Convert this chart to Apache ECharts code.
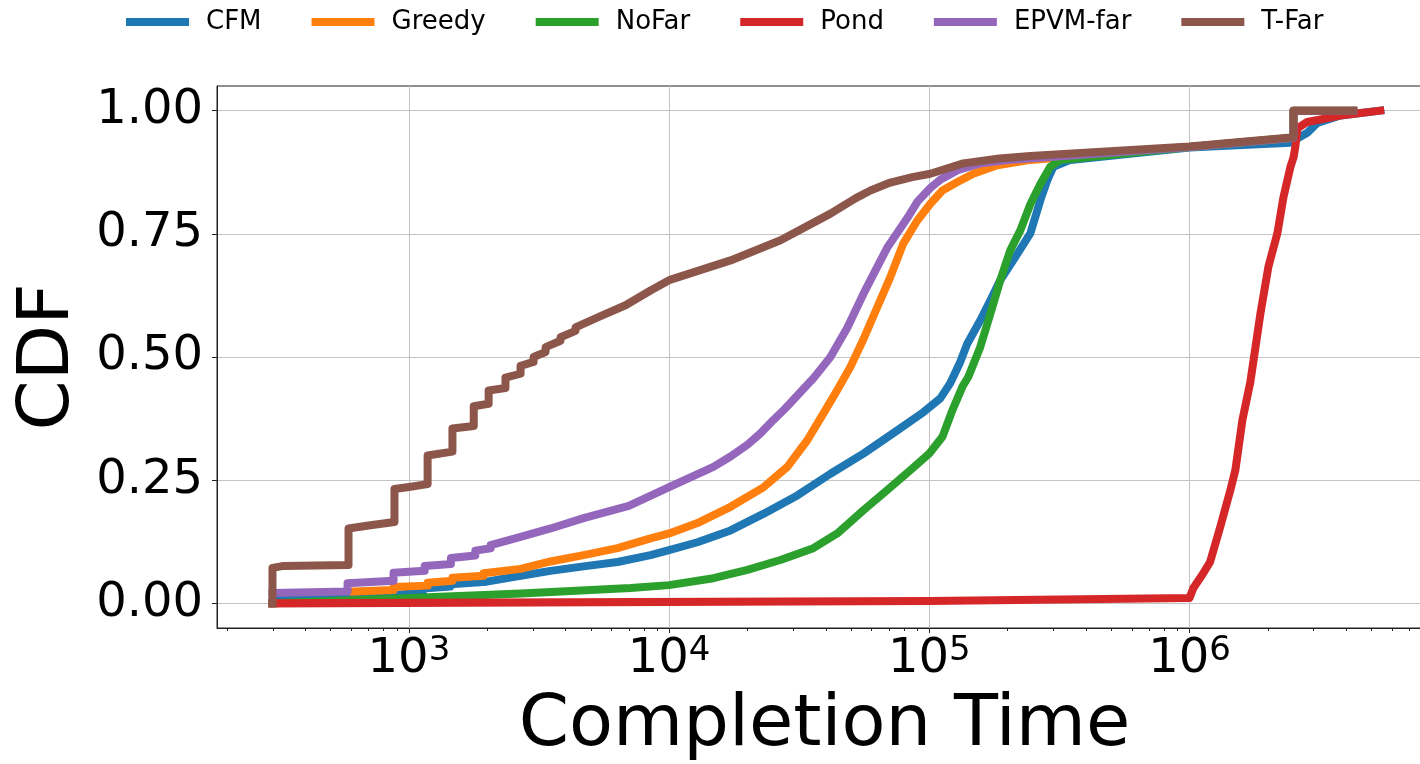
<!DOCTYPE html>
<html>
<head>
<meta charset="utf-8">
<title>CDF of completion time</title>
<script src="https://cdn.jsdelivr.net/npm/echarts@6/dist/echarts.min.js"></script>
<style>
  html, body { margin: 0; padding: 0; background: #fff; }
  #chart { width: 1420px; height: 764px; }
</style>
</head>
<body>
<div id="chart"></div>
<script>
// Series names and colours (matplotlib tab10)
const seriesNames = ['CFM', 'Greedy', 'NoFar', 'Pond', 'EPVM-far', 'T-Far'];
const seriesColors = ['#1f77b4', '#ff7f0e', '#2ca02c', '#d62728', '#9467bd', '#8c564b'];

// Tick values
const xMajorTicks = [1e3, 1e4, 1e5, 1e6];
const xMinorTicks = [200, 300, 400, 500, 600, 700, 800, 900,
  2e3, 3e3, 4e3, 5e3, 6e3, 7e3, 8e3, 9e3,
  2e4, 3e4, 4e4, 5e4, 6e4, 7e4, 8e4, 9e4,
  2e5, 3e5, 4e5, 5e5, 6e5, 7e5, 8e5, 9e5,
  2e6, 3e6, 4e6, 5e6, 6e6, 7e6, 8e6];
const yTicks = [0, 0.25, 0.5, 0.75, 1.0];

// CDF curves: [completion time, cumulative fraction]
const cfmData = [[299,0],[299,0.008],[700,0.012],[929,0.018],[1130,0.022],[1130,0.03],[1445,0.034],[1445,0.039],
  [1990,0.044],[1990,0.048],[2686,0.056],[3502,0.066],[4690,0.075],[6336,0.084],[8484,0.098],[10000,0.108],
  [12850,0.124],[17220,0.148],[23110,0.182],[31100,0.219],[41700,0.263],[55810,0.304],[75340,0.351],
  [94900,0.388],[110200,0.416],[120400,0.447],[131500,0.49],[139900,0.527],[156900,0.574],[171700,0.615],
  [187500,0.656],[210100,0.696],[244500,0.751],[267100,0.818],[284200,0.859],[299800,0.886],[348400,0.9],
  [1000000,0.925],[2440000,0.935],[2836000,0.955],[3100000,0.975],[3800000,0.99],[5410000,1.0]];

const greedyData = [[613,0.024],[873,0.027],[873,0.033],[1180,0.036],[1180,0.042],[1470,0.046],[1470,0.052],
  [1936,0.056],[1936,0.061],[2686,0.07],[3502,0.085],[4690,0.098],[6336,0.112],[8484,0.132],[10000,0.142],
  [12850,0.163],[17220,0.196],[23110,0.236],[28470,0.277],[33970,0.331],[39140,0.385],[44300,0.433],
  [49750,0.48],[55810,0.536],[63100,0.601],[70800,0.662],[79400,0.73],[89940,0.777],[100900,0.811],
  [112300,0.838],[128300,0.855],[147600,0.872],[182400,0.889],[244500,0.9],[1000000,0.926],[2510000,0.945],
  [2510000,1.0],[4260000,1.0]];

const noFarData = [[299,0],[299,0.004],[900,0.01],[2700,0.02],[7107,0.031],[10000,0.037],[14800,0.051],
  [20000,0.068],[26760,0.088],[35820,0.112],[44300,0.142],[55810,0.189],[68950,0.23],[84500,0.27],
  [100000,0.304],[112300,0.338],[122700,0.392],[134100,0.44],[141300,0.46],[156900,0.52],[171700,0.588],
  [187500,0.656],[204900,0.717],[223800,0.757],[244500,0.81],[267100,0.851],[291700,0.886],[319000,0.9],
  [1000000,0.926],[2510000,0.945],[2510000,1.0],[4260000,1.0]];

const pondData = [[299,0],[100000,0.005],[1000000,0.011],[1035000,0.031],[1120000,0.058],[1200000,0.084],
  [1314000,0.156],[1436000,0.23],[1500000,0.27],[1597000,0.372],[1714000,0.45],[1873000,0.588],
  [2010000,0.683],[2176000,0.751],[2296000,0.824],[2443000,0.886],[2510000,0.905],[2550000,0.926],
  [2600000,0.964],[2836000,0.977],[3800000,0.99],[5410000,1.0]];

const epvmFarData = [[299,0.021],[581,0.024],[581,0.041],[873,0.046],[873,0.062],[1150,0.066],[1150,0.076],
  [1450,0.08],[1450,0.092],[1800,0.097],[1800,0.107],[2061,0.112],[2061,0.118],[2686,0.135],[3502,0.152],
  [4690,0.173],[7000,0.198],[10000,0.236],[14800,0.277],[17220,0.298],[20000,0.322],[22440,0.345],
  [25150,0.372],[28000,0.396],[31100,0.422],[36000,0.458],[41700,0.5],[48450,0.56],[55810,0.628],
  [63100,0.683],[68950,0.722],[75340,0.752],[82300,0.782],[89940,0.815],[100900,0.843],[110300,0.86],
  [128300,0.879],[157100,0.893],[199400,0.9],[1000000,0.926],[2510000,0.945],[2510000,1.0],[4260000,1.0]];

const tFarData = [[299,0],[299,0.072],[330,0.076],[586,0.078],[586,0.152],[700,0.158],[880,0.165],[880,0.232],
  [1000,0.236],[1180,0.242],[1180,0.300],[1470,0.308],[1470,0.355],[1775,0.36],[1775,0.40],[2025,0.405],
  [2025,0.432],[2350,0.437],[2350,0.458],[2686,0.466],[2686,0.482],[3014,0.49],[3014,0.50],[3352,0.51],
  [3352,0.52],[3826,0.533],[3826,0.54],[4368,0.553],[4368,0.56],[5452,0.583],[6800,0.605],[8484,0.635],
  [10000,0.656],[17220,0.696],[26800,0.737],[41700,0.791],[52000,0.822],[59400,0.838],[70800,0.854],
  [86000,0.865],[100900,0.872],[135000,0.893],[186000,0.903],[244500,0.908],[1000000,0.927],[2510000,0.946],
  [2510000,1.0],[4260000,1.0]];

const seriesData = [cfmData, greedyData, noFarData, pondData, epvmFarData, tFarData];

const FONT = 'DejaVu Sans';
const X_MIN = 183, X_MAX = 8.55e6;

const chart = echarts.init(document.getElementById('chart'), null, { renderer: 'canvas' });

chart.setOption({
  animation: false,
  backgroundColor: '#ffffff',
  color: seriesColors,
  legend: {
    top: 4,
    left: 121,
    icon: 'rect',
    itemWidth: 63,
    itemHeight: 8,
    itemGap: 50,
    textStyle: { fontFamily: FONT, fontSize: 26, color: '#000', padding: [0, 0, 0, 12] },
    data: seriesNames
  },
  grid: {
    left: 217, right: -12, top: 86, bottom: 136,
    show: true, borderColor: '#222', borderWidth: 1,
    containLabel: false, outerBoundsMode: 'none'
  },
  xAxis: [{
    type: 'log', logBase: 10, min: X_MIN, max: X_MAX,
    name: 'Completion Time', nameLocation: 'middle', nameGap: 62,
    nameTextStyle: { fontFamily: FONT, fontSize: 72, color: '#000' },
    axisLine: { onZero: false, lineStyle: { color: '#222', width: 1 } },
    axisTick: { customValues: xMajorTicks, length: 5, lineStyle: { color: '#222' } },
    splitLine: { show: true, lineStyle: { color: '#c4c4c4', width: 1 } },
    minorTick: { show: false },
    axisLabel: {
      customValues: xMajorTicks,
      margin: 6,
      formatter: function (v) {
        return '{b|10}{s|' + Math.round(Math.log10(v)) + '}';
      },
      rich: {
        b: { fontFamily: FONT, fontSize: 48, color: '#000', lineHeight: 52 },
        s: { fontFamily: FONT, fontSize: 34, color: '#000', verticalAlign: 'top', lineHeight: 36 }
      }
    }
  }, {
    type: 'log', logBase: 10, min: X_MIN, max: X_MAX, position: 'bottom',
    axisLine: { show: false, onZero: false },
    axisTick: { customValues: xMinorTicks, length: 3, lineStyle: { color: '#222' } },
    axisLabel: { show: false },
    splitLine: { show: false }
  }],
  yAxis: {
    type: 'value', min: -0.05, max: 1.05,
    name: 'CDF', nameLocation: 'middle', nameGap: 130, nameRotate: 90,
    nameTextStyle: { fontFamily: FONT, fontSize: 72, color: '#000' },
    axisLine: { show: true, onZero: false, lineStyle: { color: '#222', width: 1 } },
    axisTick: { show: true, customValues: yTicks, length: 5, lineStyle: { color: '#222' } },
    splitLine: { show: true, lineStyle: { color: '#c4c4c4', width: 1 } },
    axisLabel: {
      customValues: yTicks, margin: 14,
      fontFamily: FONT, fontSize: 48, color: '#000',
      formatter: function (v) { return v.toFixed(2); }
    }
  },
  series: seriesNames.map(function (name, i) {
    return {
      name: name,
      type: 'line',
      xAxisIndex: 0,
      data: seriesData[i],
      showSymbol: false,
      symbol: 'none',
      lineStyle: { width: 8, color: seriesColors[i], cap: 'square', join: 'round' },
      itemStyle: { color: seriesColors[i] },
      emphasis: { disabled: true },
      z: 2 + i
    };
  })
});
</script>
</body>
</html>
